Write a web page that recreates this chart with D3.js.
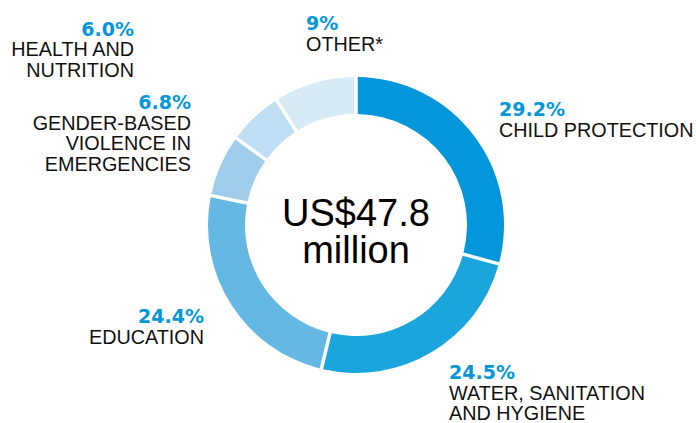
<!DOCTYPE html>
<html>
<head>
<meta charset="utf-8">
<script src="https://cdn.jsdelivr.net/npm/d3@7"></script>
<style>
  html, body { margin: 0; padding: 0; background: #fff; }
  svg { display: block; font-family: "Liberation Sans", Arial, sans-serif; }
</style>
</head>
<body>
<svg id="chart" width="696" height="423"></svg>
<script>
// Funding shares by sector, clockwise from 12 o'clock
const sectors = ["CHILD PROTECTION", "WATER, SANITATION AND HYGIENE", "EDUCATION",
                 "GENDER-BASED VIOLENCE IN EMERGENCIES", "HEALTH AND NUTRITION", "OTHER*"];
const shares = [29.2, 24.5, 24.4, 6.8, 6.0, 9];
const shareLabels = ["29.2%", "24.5%", "24.4%", "6.8%", "6.0%", "9%"];
const labelLines = [
  ["CHILD PROTECTION"],
  ["WATER, SANITATION", "AND HYGIENE"],
  ["EDUCATION"],
  ["GENDER-BASED", "VIOLENCE IN", "EMERGENCIES"],
  ["HEALTH AND", "NUTRITION"],
  ["OTHER*"]
];
const totalLines = ["US$47.8", "million"];

// Presentation
const colors = ["#0396db", "#1ba5dd", "#64b8e3", "#a0cdeb", "#c0def3", "#d8eaf5"];
const labelLayout = [
  { x: 499, y: 116, anchor: "start" },
  { x: 449, y: 379, anchor: "start" },
  { x: 204, y: 323, anchor: "end" },
  { x: 191, y: 109, anchor: "end" },
  { x: 134, y: 35.5, anchor: "end" },
  { x: 306, y: 30, anchor: "start" }
];

const svg = d3.select("#chart");
const cx = 356, cy = 225, outerR = 148, innerR = 111, gap = 3.5;

const pie = d3.pie().sort(null).value(d => d);
const arc = d3.arc()
  .innerRadius(innerR)
  .outerRadius(outerR)
  .padRadius(outerR)
  .padAngle(gap / outerR);

const g = svg.append("g").attr("transform", `translate(${cx},${cy})`);
g.selectAll("path")
  .data(pie(shares))
  .join("path")
  .attr("d", arc)
  .attr("fill", (d, i) => colors[i]);

// Total in the middle of the ring
g.append("text")
  .attr("text-anchor", "middle")
  .attr("font-size", 38)
  .attr("fill", "#000")
  .selectAll("tspan")
  .data(totalLines)
  .join("tspan")
  .attr("x", 0)
  .attr("y", (d, i) => 1 + i * 37)
  .text(d => d);

// Sector labels: bold share on top, name below
const lineH = 20.5;
const lab = svg.selectAll("g.label")
  .data(sectors)
  .join("g")
  .attr("class", "label")
  .attr("transform", (d, i) => `translate(${labelLayout[i].x},${labelLayout[i].y})`);

lab.append("text")
  .attr("text-anchor", (d, i) => labelLayout[i].anchor)
  .attr("font-family", "'DejaVu Sans', sans-serif")
  .attr("font-size", 19)
  .attr("font-weight", "bold")
  .attr("fill", "#0396db")
  .text((d, i) => shareLabels[i]);

lab.each(function (d, i) {
  d3.select(this).selectAll("text.name")
    .data(labelLines[i])
    .join("text")
    .attr("class", "name")
    .attr("y", (t, j) => (j + 1) * lineH)
    .attr("text-anchor", labelLayout[i].anchor)
    .attr("font-size", 19.8)
    .attr("fill", "#111")
    .text(t => t);
});
</script>
</body>
</html>
